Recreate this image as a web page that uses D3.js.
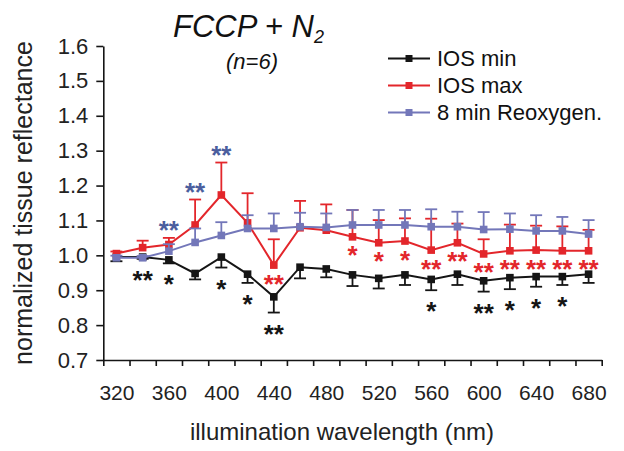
<!DOCTYPE html>
<html>
<head>
<meta charset="utf-8">
<script src="https://cdn.jsdelivr.net/npm/d3@7"></script>
<style>
  body { margin: 0; background: #fff; }
  text { font-family: "Liberation Sans", Arial, sans-serif; }
</style>
</head>
<body>
<div id="chart-area"></div>
<script>
// data
var wavelengths = [320, 340, 360, 380, 400, 420, 440, 460, 480, 500, 520, 540, 560, 580, 600, 620, 640, 660, 680];

var iosMin   = [0.995, 0.995, 0.987, 0.948, 0.995, 0.946, 0.881, 0.966, 0.961, 0.944, 0.934, 0.944, 0.931, 0.946, 0.927, 0.936, 0.939, 0.939, 0.946];
var iosMinSE = [0.012, 0.005, 0.010, 0.017, 0.030, 0.025, 0.045, 0.032, 0.024, 0.032, 0.029, 0.029, 0.031, 0.031, 0.031, 0.033, 0.029, 0.024, 0.025];

var iosMax   = [1.005, 1.022, 1.031, 1.087, 1.173, 1.093, 0.972, 1.079, 1.072, 1.053, 1.036, 1.041, 1.015, 1.036, 1.004, 1.013, 1.015, 1.013, 1.013];
var iosMaxSE = [0.006, 0.020, 0.019, 0.073, 0.093, 0.085, 0.074, 0.077, 0.074, 0.077, 0.065, 0.065, 0.090, 0.055, 0.042, 0.075, 0.070, 0.070, 0.060];

var reoxy    = [0.993, 0.993, 1.012, 1.037, 1.057, 1.077, 1.077, 1.082, 1.080, 1.087, 1.087, 1.087, 1.082, 1.082, 1.074, 1.075, 1.070, 1.070, 1.061];
var reoxySE  = [0.006, 0.005, 0.020, 0.040, 0.038, 0.038, 0.043, 0.040, 0.040, 0.043, 0.043, 0.043, 0.050, 0.043, 0.050, 0.045, 0.045, 0.040, 0.040];

// significance marks
var minSig   = ["", "**", "*", "", "*", "*", "**", "", "", "", "", "", "*", "", "**", "*", "*", "*", ""];
var maxSig   = ["", "", "", "", "", "", "**", "", "", "*", "*", "*", "**", "**", "**", "**", "**", "**", "**"];
var reoxySig = ["", "", "**", "**", "**", "", "", "", "", "", "", "", "", "", "", "", "", "", ""];

var xTickValues = [310, 330, 350, 370, 390, 410, 430, 450, 470, 490, 510, 530, 550, 570, 590, 610, 630, 650, 670, 690];
var xLabelValues = [320, 360, 400, 440, 480, 520, 560, 600, 640, 680];
var yTickValues = [0.7, 0.8, 0.9, 1.0, 1.1, 1.2, 1.3, 1.4, 1.5, 1.6];

var black = "#151515", red = "#e3262b", blue = "#7377b9", blueStar = "#4b5e9e";

var width = 624, height = 451;

var svg = d3.select("#chart-area")
  .append("svg")
    .attr("width", width)
    .attr("height", height);

svg.append("rect").attr("width", width).attr("height", height).attr("fill", "#fff");

// scales
var x = d3.scaleLinear()
  .domain([310, 690])
  .range([103.3, 601.7]);

var y = d3.scaleLinear()
  .domain([0.7, 1.6])
  .range([360, 46]);

// x axis: ticks at category edges, labels at centres
svg.append("g")
  .attr("transform", "translate(0,360)")
  .call(d3.axisBottom(x).tickValues(xTickValues).tickFormat("").tickSize(6).tickSizeOuter(0))
  .call(function(g) {
    g.select(".domain").attr("stroke", black).attr("stroke-width", 1.6);
    g.selectAll(".tick line").attr("stroke", black).attr("stroke-width", 1.6);
  });

svg.append("g")
  .attr("transform", "translate(0,360)")
  .call(d3.axisBottom(x).tickValues(xLabelValues).tickFormat(d3.format("d")).tickSize(0).tickPadding(25))
  .call(function(g) {
    g.select(".domain").remove();
    g.selectAll("text").attr("font-size", "21px").attr("fill", "#222")
      .attr("font-family", "Liberation Sans, Arial, sans-serif");
  });

// y axis
svg.append("g")
  .attr("transform", "translate(103.3,0)")
  .call(d3.axisLeft(y).tickValues(yTickValues).tickFormat(d3.format(".1f")).tickSize(7).tickSizeOuter(0).tickPadding(8))
  .call(function(g) {
    g.select(".domain").attr("stroke", black).attr("stroke-width", 1.6);
    g.selectAll(".tick line").attr("stroke", black).attr("stroke-width", 1.6);
    g.selectAll("text").attr("font-size", "22px").attr("fill", "#222")
      .attr("font-family", "Liberation Sans, Arial, sans-serif");
  });

// axis titles
svg.append("text")
    .attr("x", 342)
    .attr("y", 440)
    .attr("text-anchor", "middle")
    .attr("font-size", "24px")
    .attr("fill", "#222")
    .text("illumination wavelength (nm)");

svg.append("text")
    .attr("transform", "rotate(-90)")
    .attr("x", -203)
    .attr("y", 32)
    .attr("text-anchor", "middle")
    .attr("font-size", "25px")
    .attr("fill", "#222")
    .text("normalized tissue reflectance");

// title
var title = svg.append("text")
    .attr("x", 173)
    .attr("y", 37)
    .attr("font-size", "31px")
    .attr("font-style", "italic")
    .attr("fill", "#111");
title.append("tspan").text("FCCP + N");
title.append("tspan").attr("font-size", "18px").attr("dy", 6).text("2");

svg.append("text")
    .attr("x", 252)
    .attr("y", 69)
    .attr("text-anchor", "middle")
    .attr("font-size", "22px")
    .attr("font-style", "italic")
    .attr("fill", "#111")
    .text("(n=6)");

// draw one series with one-sided error bars
function drawSeries(vals, se, color, dir) {
  var pts = wavelengths.map(function(w, i) { return {w: w, v: vals[i], e: se[i]}; });
  var g = svg.append("g");

  g.selectAll(".err")
    .data(pts)
    .enter().append("line")
      .attr("x1", function(d) { return x(d.w); })
      .attr("x2", function(d) { return x(d.w); })
      .attr("y1", function(d) { return y(d.v); })
      .attr("y2", function(d) { return y(d.v + dir * d.e); })
      .attr("stroke", color)
      .attr("stroke-width", 1.8);

  g.selectAll(".cap")
    .data(pts)
    .enter().append("line")
      .attr("x1", function(d) { return x(d.w) - 6; })
      .attr("x2", function(d) { return x(d.w) + 6; })
      .attr("y1", function(d) { return y(d.v + dir * d.e); })
      .attr("y2", function(d) { return y(d.v + dir * d.e); })
      .attr("stroke", color)
      .attr("stroke-width", 1.8);

  g.append("path")
    .datum(pts)
    .attr("fill", "none")
    .attr("stroke", color)
    .attr("stroke-width", 2)
    .attr("d", d3.line().x(function(d) { return x(d.w); }).y(function(d) { return y(d.v); }));

  g.selectAll(".mark")
    .data(pts)
    .enter().append("rect")
      .attr("x", function(d) { return x(d.w) - 3.8; })
      .attr("y", function(d) { return y(d.v) - 3.8; })
      .attr("width", 7.6)
      .attr("height", 7.6)
      .attr("fill", color);
}

drawSeries(iosMin, iosMinSE, black, -1);
drawSeries(iosMax, iosMaxSE, red, 1);
drawSeries(reoxy, reoxySE, blue, 1);

// asterisks (centre y given, shifted to baseline)
function drawStars(sig, cy, color) {
  svg.append("g").selectAll("text")
    .data(wavelengths.map(function(w, i) { return {w: w, s: sig[i], cy: cy(i)}; }).filter(function(d) { return d.s; }))
    .enter().append("text")
      .attr("x", function(d) { return x(d.w); })
      .attr("y", function(d) { return d.cy + 15; })
      .attr("text-anchor", "middle")
      .attr("font-size", "26px")
      .attr("font-weight", "bold")
      .attr("fill", color)
      .text(function(d) { return d.s; });
}

drawStars(minSig, function(i) { return y(iosMin[i] - iosMinSE[i]) + 15; }, black);
drawStars(maxSig, function(i) { return y(iosMax[i]) + 12.5; }, red);
drawStars(reoxySig, function(i) { return y(iosMax[i] + iosMaxSE[i]) - 14; }, blueStar);

// legend
var legendNames = ["IOS min", "IOS max", "8 min Reoxygen."];
var legendColors = [black, red, blue];

var legend = svg.append("g");
legendNames.forEach(function(name, i) {
  var cy = 58.5 + i * 27;
  legend.append("line")
    .attr("x1", 388).attr("x2", 430).attr("y1", cy).attr("y2", cy)
    .attr("stroke", legendColors[i]).attr("stroke-width", 2);
  legend.append("rect")
    .attr("x", 405.5).attr("y", cy - 3.5).attr("width", 7).attr("height", 7)
    .attr("fill", legendColors[i]);
  legend.append("text")
    .attr("x", 437).attr("y", cy + 7.8)
    .attr("font-size", "22px")
    .attr("fill", "#111")
    .text(name);
});
</script>
</body>
</html>
